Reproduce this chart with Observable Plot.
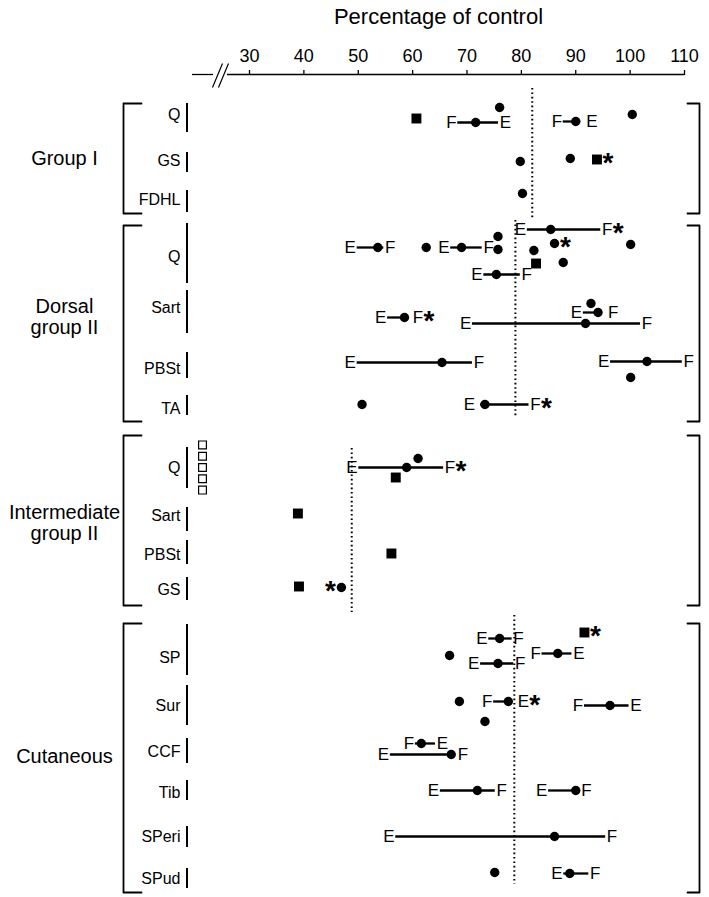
<!DOCTYPE html>
<html><head><meta charset="utf-8">
<script src="https://cdn.jsdelivr.net/npm/d3@7"></script>
<script src="https://cdn.jsdelivr.net/npm/@observablehq/plot@0.6"></script>
<style>body{margin:0;background:#fff}</style>
</head><body><div id="chart"></div>
<script>
// ---------- data ----------
const tickValues = [30, 40, 50, 60, 70, 80, 90, 100, 110];
const titleText = "Percentage of control";

const groupNames = ["Group I", "Dorsal\ngroup II", "Intermediate\ngroup II", "Cutaneous"];
const groupControl = [82.0, 78.9, 48.8, 78.7];   // dotted reference level per group

const muscleKeys  = ["I-Q","I-GS","I-FDHL","D-Q","D-Sart","D-PBSt","D-TA","M-Q","M-Sart","M-PBSt","M-GS","C-SP","C-Sur","C-CCF","C-Tib","C-SPeri","C-SPud"];
const muscleNames = ["Q","GS","FDHL","Q","Sart","PBSt","TA","Q","Sart","PBSt","GS","SP","Sur","CCF","Tib","SPeri","SPud"];
const muscleGroup = [0,0,0,1,1,1,1,2,2,2,2,3,3,3,3,3,3];
const openSquareCount = 5; // open squares beside intermediate Q

// one entry per plotted symbol
const recMuscle = ["I-Q","I-Q","I-Q","I-Q","I-Q","I-GS","I-GS","I-GS","I-FDHL",
  "D-Q","D-Q","D-Q","D-Q","D-Q","D-Q","D-Q","D-Q","D-Q","D-Q","D-Q","D-Q",
  "D-Sart","D-Sart","D-Sart","D-Sart","D-PBSt","D-PBSt","D-PBSt","D-TA","D-TA",
  "M-Q","M-Q","M-Q","M-Sart","M-PBSt","M-GS","M-GS",
  "C-SP","C-SP","C-SP","C-SP","C-SP","C-Sur","C-Sur","C-Sur","C-Sur","C-CCF","C-CCF","C-Tib","C-Tib","C-SPeri","C-SPud","C-SPud"];
const recValue = [76.0,100.4,60.7,71.6,90.0, 79.8,89.0,93.9, 80.2,
  85.4,75.7,53.6,62.5,69.0,75.7,82.3,86.1,100.1,82.7,87.7,75.4,
  92.8,94.1,58.5,91.8, 65.4,103.1,100.1, 50.7,73.3,
  61.0,58.9,56.9, 38.9, 56.1, 39.1,46.9,
  76.0,91.6,86.7,66.8,75.7, 68.6,77.6,96.3,73.3, 61.6,67.1, 71.9,90.0, 86.1, 75.1,88.9];
const recShape = ["c","c","s","c","c", "c","c","s", "c",
  "c","c","c","c","c","c","c","c","c","s","c","c",
  "c","c","c","c", "c","c","c", "c","c",
  "c","c","s", "s", "s", "s","c",
  "c","s","c","c","c", "c","c","c","c", "c","c", "c","c", "c", "c","c"];
const recRow = [107,114,118,122,121, 161,158,159, 193,
  229,236,247,247,247,249,250,243,244,263,262,274,
  303,312,317,323, 362,361,377, 404,404,
  458,467,477, 513, 553, 586,587,
  638,632,653,655,663, 701,701,705,721, 743,754, 790,790, 836, 872,873];
const recE = [null,null,null,75.8,90.9, null,null,null, null,
  81.1,null,49.8,null,67.0,null,null,null,null,null,null,73.1,
  null,91.4,55.4,71.0, 49.8,96.4,null, null,72.5,
  null,50.1,null, null, null, null,null,
  74.0,null,89.3,null,72.5, null,78.3,99.8,null, 64.2,55.9, 65.1,85.0, 56.9, null,87.8];
const recF = [null,null,null,68.3,87.7, null,null,null, null,
  94.6,null,54.7,null,72.8,null,null,null,null,null,null,79.8,
  null,94.9,59.0,101.9, 71.0,109.6,null, null,81.4,
  null,65.7,null, null, null, null,null,
  78.3,null,83.8,null,78.6, null,74.9,91.6,null, 60.5,67.3, 75.2,90.0, 95.5, null,92.4];
const recStar = ["","","","","", "","","after", "",
  "F","","","","","","","after","","","","",
  "","","F","", "","","", "","F",
  "","F","", "", "", "","before",
  "","after","","","", "","E","","", "","", "","", "", "",""];

// ---------- layout (pixel furniture) ----------
const X30 = 249, X110 = 684;
const K = (X110 - X30) / 80;                // px per percentage unit
const xAt = p => 30 + (p - X30) / K;        // furniture pixel -> x value
const layout = {
  groupLabelY: [158, 316, 522, 756],
  groupTop:    [103, 225, 435, 623],
  groupBottom: [213, 421, 605, 892],
  controlTop:  [88, 220, 448, 615],
  controlBottom: [220, 418, 612, 884],
  muscleLabelY: [114,160,199,256,307,368,408,467,515,554,589,657,705,751,792,836,878],
  barTop:    [103,152,190,223,290,352,395,447,507,540,577,624,685,738,780,826,868],
  barBottom: [132,172,212,283,333,378,415,488,531,564,600,675,725,763,800,847,888]
};

// ---------- derived tables ----------
const groups = groupNames.map((name, i) => ({
  name, control: groupControl[i], labelY: layout.groupLabelY[i],
  top: layout.groupTop[i], bottom: layout.groupBottom[i],
  cTop: layout.controlTop[i], cBottom: layout.controlBottom[i]
}));
const muscles = muscleKeys.map((k, i) => ({
  key: k, name: muscleNames[i], group: muscleGroup[i],
  y: layout.muscleLabelY[i], y1: layout.barTop[i], y2: layout.barBottom[i]
}));
const recs = recMuscle.map((m, i) => ({
  m, v: recValue[i], shape: recShape[i], y: recRow[i],
  e: recE[i], f: recF[i], star: recStar[i]
}));
const lines = recs.filter(d => d.e != null);

const LETTER_W = {E: 11.3, F: 10.4};
const labels = [], stars = [];
for (const d of lines) {
  for (const [letter, end, other] of [["E", d.e, d.f], ["F", d.f, d.e]]) {
    const right = end > other;
    const nearDot = Math.abs(end - d.v) * K < 5;
    const off = (nearDot ? 5.5 : 1.2) / K;
    const x = right ? end + off : end - off;
    labels.push({letter, y: d.y, x, right});
    if (d.star === letter) stars.push({x: x + (LETTER_W[letter] + 0.3) / K, y: d.y, right: true});
  }
}
for (const d of recs) {
  if (d.star === "after") stars.push({x: d.v + 5.5 / K, y: d.y, right: true});
  if (d.star === "before") stars.push({x: d.v - 5.5 / K, y: d.y, right: false});
}

// bracket polylines
const leftBrackets = [], rightBrackets = [];
groups.forEach((g, i) => {
  [[141, g.top], [123, g.top], [123, g.bottom], [141, g.bottom]].forEach(([p, y]) => leftBrackets.push({x: xAt(p), y, g: i}));
  [[687, g.top], [699, g.top], [699, g.bottom], [687, g.bottom]].forEach(([p, y]) => rightBrackets.push({x: xAt(p), y, g: i}));
});
const mq = muscles[muscleKeys.indexOf("M-Q")];
const openSquares = d3.range(openSquareCount).map(i => ({x: xAt(202), y: mq.y + (i - (openSquareCount - 1) / 2) * 11.3}));

const axisLeft = xAt(192);
const chart = Plot.plot({
  width: 709, height: 897,
  marginTop: 74, marginLeft: 0, marginRight: 0, marginBottom: 0,
  x: {domain: [30, 110], range: [X30, X110]},
  y: {domain: [0, 897], range: [0, 897], axis: null},
  style: {fontFamily: "'Liberation Sans', Arial, Helvetica, sans-serif", background: "white", color: "black"},
  marks: [
    // title + axis
    Plot.text([titleText], {x: (axisLeft + 110) / 2, y: 16, text: d => d, fontSize: 22}),
    Plot.axisX(tickValues, {anchor: "top", tickSize: 5, tickPadding: 8, fontSize: 18, label: null, strokeWidth: 1.3}),
    Plot.ruleY([74], {x1: axisLeft, x2: xAt(213), strokeWidth: 1.3}),
    Plot.ruleY([74], {x1: xAt(227), x2: 110, strokeWidth: 1.3}),
    Plot.link([0, 6], {x1: d => xAt(212 + d), y1: 87, x2: d => xAt(222 + d), y2: 63, strokeWidth: 1.2}),
    // group furniture
    Plot.line(leftBrackets, {x: "x", y: "y", z: "g", strokeWidth: 1.8}),
    Plot.line(rightBrackets, {x: "x", y: "y", z: "g", strokeWidth: 1.8}),
    Plot.text(groups, {x: xAt(64), y: "labelY", text: "name", fontSize: 20, lineHeight: 1.05}),
    Plot.ruleX(groups, {x: "control", y1: "cTop", y2: "cBottom", strokeWidth: 2, strokeDasharray: "1.6,2.8"}),
    // muscles
    Plot.text(muscles, {x: xAt(180), y: "y", text: "name", textAnchor: "end", fontSize: 16}),
    Plot.ruleX(muscles, {x: xAt(186.5), y1: "y1", y2: "y2", strokeWidth: 2}),
    Plot.dot(openSquares, {x: "x", y: "y", symbol: "square", r: 4.4, fill: "white", stroke: "black", strokeWidth: 1.2}),
    // data
    Plot.ruleY(lines, {y: "y", x1: "e", x2: "f", strokeWidth: 2.3}),
    Plot.dot(recs.filter(d => d.shape === "c"), {x: "v", y: "y", r: 4.7, fill: "black"}),
    Plot.dot(recs.filter(d => d.shape === "s"), {x: "v", y: "y", r: 5.6, symbol: "square", fill: "black"}),
    Plot.text(labels.filter(d => d.right), {x: "x", y: "y", text: "letter", textAnchor: "start", fontSize: 17}),
    Plot.text(labels.filter(d => !d.right), {x: "x", y: "y", text: "letter", textAnchor: "end", fontSize: 17}),
    Plot.text(stars.filter(d => d.right), {x: "x", y: "y", text: () => "*", textAnchor: "start", fontSize: 28, fontWeight: "bold", dy: 4}),
    Plot.text(stars.filter(d => !d.right), {x: "x", y: "y", text: () => "*", textAnchor: "end", fontSize: 28, fontWeight: "bold", dy: 4})
  ]
});
document.getElementById("chart").append(chart);
</script>
</body></html>
